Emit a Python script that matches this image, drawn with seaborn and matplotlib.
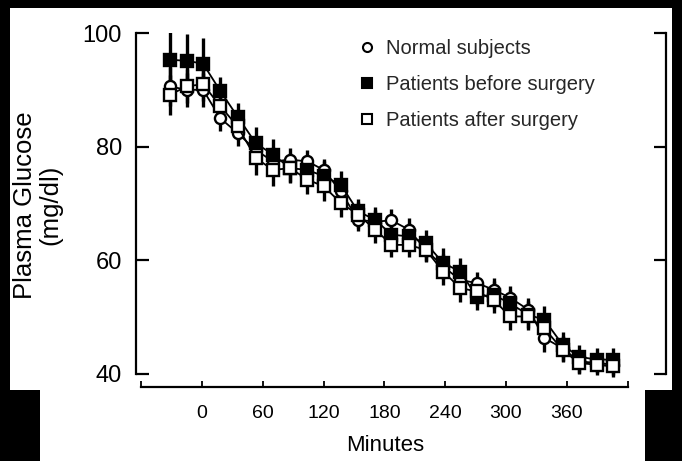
import numpy as np
import matplotlib
matplotlib.use('Agg')
from matplotlib import pyplot as plt
from matplotlib.lines import Line2D
from matplotlib.patches import Rectangle
import seaborn as sns

# sampling times (minutes)
minutes = [-32, -15, 1, 18, 35, 53, 70, 87, 104, 120, 137, 154, 171, 187,
           204, 221, 238, 255, 271, 288, 304, 322, 338, 356, 372, 390, 406]

normal = [90.6, 90.0, 90.0, 85.0, 82.4, 79.4, 77.4, 77.7, 77.4, 75.9, 72.1, 67.1, 66.8, 67.0,
          65.4, 61.8, 58.9, 56.5, 56.0, 54.8, 53.4, 51.3, 46.3, 44.5, 42.2, 41.9, 41.6]
normal_se = [3.5, 3.0, 3.0, 2.3, 2.3, 2.5, 2.5, 2.0, 2.0, 2.0, 2.0, 2.0, 2.0, 2.0,
             2.0, 2.0, 2.2, 2.2, 2.0, 2.0, 2.0, 2.0, 2.4, 2.2, 2.0, 1.8, 1.8]

before = [95.3, 95.1, 94.6, 89.8, 85.3, 80.6, 78.6, 76.2, 75.9, 74.8, 73.3, 68.6, 67.1, 64.5,
          64.2, 63.0, 59.5, 58.0, 53.6, 53.9, 52.4, 50.4, 49.5, 45.1, 43.0, 42.5, 42.5]
before_se = [4.8, 4.8, 4.5, 2.4, 2.4, 2.8, 2.8, 2.4, 2.6, 2.6, 2.4, 2.2, 2.2, 2.4,
             2.4, 2.4, 2.6, 2.4, 2.4, 2.4, 2.4, 2.4, 2.4, 2.2, 2.0, 2.0, 2.0]

after = [89.1, 90.6, 91.0, 87.1, 83.6, 78.0, 75.9, 76.2, 74.2, 73.0, 70.1, 68.0, 65.4, 62.7,
         62.7, 61.8, 58.0, 55.1, 54.5, 53.0, 50.1, 50.1, 48.0, 44.2, 41.9, 41.6, 41.3]
after_se = [3.5, 3.0, 3.0, 2.5, 2.5, 3.0, 2.8, 2.6, 2.5, 2.5, 2.5, 2.3, 2.3, 2.2,
            2.2, 2.2, 2.4, 2.4, 2.3, 2.3, 2.3, 2.3, 2.3, 2.2, 2.0, 1.8, 1.8]

labels = ['Normal subjects', 'Patients before surgery', 'Patients after surgery']
x_ticks = [-60, 0, 60, 120, 180, 240, 300, 360, 420]
x_tick_labels = ['', '0', '60', '120', '180', '240', '300', '360', '']
y_ticks = [40, 60, 80, 100]

sns.set_theme(style='ticks')
plt.rcParams['font.family'] = ['Liberation Sans', 'DejaVu Sans']

W, H = 682, 461
fig = plt.figure(figsize=(W / 100, H / 100), dpi=100, facecolor='black')

# white paper of the scan on a black background
def px_rect(x0, y0, x1, y1):
    return Rectangle((x0 / W, 1 - y1 / H), (x1 - x0) / W, (y1 - y0) / H,
                     transform=fig.transFigure, facecolor='white', edgecolor='none', zorder=-10)

fig.patches.append(px_rect(10, 8, 672, 390))
fig.patches.append(px_rect(40, 385, 645, 461))

ax = fig.add_axes([136 / W, 1 - 387 / H, (666 - 136) / W, (387 - 33) / H])
ax.set_facecolor('none')

series = [
    (normal, normal_se, 'o', 'white', 8.0),
    (before, before_se, 's', 'black', 8.4),
    (after, after_se, 's', 'white', 8.2),
]

for i, (vals, se, mk, fc, ms) in enumerate(series):
    ax.errorbar(minutes, vals, yerr=se, fmt='none', ecolor='black',
                elinewidth=2.4, capsize=0, zorder=1 + i * 0.1)
    sns.lineplot(x=minutes, y=vals, ax=ax, color='black', linewidth=1.3,
                 marker=mk, markersize=ms, markerfacecolor=fc,
                 markeredgecolor='black', markeredgewidth=1.7, zorder=3 + i * 0.1)

ax.set_xlim(-65.2, 458)
ax.set_ylim(37.68, 100)

for side in ['left', 'right', 'bottom']:
    ax.spines[side].set_linewidth(1.6)
    ax.spines[side].set_color('black')
ax.spines['top'].set_visible(False)
ax.spines['left'].set_bounds(40, 100)
ax.spines['right'].set_bounds(40, 100)
ax.spines['bottom'].set_bounds(-60, 420)

ax.set_yticks(y_ticks)
ax.set_yticklabels([str(v) for v in y_ticks], fontsize=17)
ax.set_xticks(x_ticks)
ax.set_xticklabels(x_tick_labels, fontsize=14)
ax.tick_params(axis='y', which='both', direction='in', length=9, width=1.6,
               left=True, right=True, labelleft=True, labelright=False, pad=10, colors='black')
ax.tick_params(axis='x', direction='in', length=4, width=1.3, pad=13, colors='black')

ax.set_xlabel('Minutes', fontsize=16, color='black')
ax.xaxis.set_label_coords((385 - 136) / 530, -(435 - 387) / 354)
ax.set_ylabel('Plasma Glucose\n(mg/dl)', fontsize=18.5, color='black', linespacing=1.05)
ax.yaxis.set_label_coords((62 - 136) / 530, (387 - 205) / 354)

handles = [
    Line2D([], [], linestyle='none', marker='o', markersize=6.5, markerfacecolor='white',
           markeredgecolor='black', markeredgewidth=1.5),
    Line2D([], [], linestyle='none', marker='s', markersize=7, markerfacecolor='black',
           markeredgecolor='black', markeredgewidth=1.5),
    Line2D([], [], linestyle='none', marker='s', markersize=7, markerfacecolor='white',
           markeredgecolor='black', markeredgewidth=1.5),
]
ax.legend(handles, labels, loc='upper left', bbox_to_anchor=((357 - 136) / 530, (387 - 39) / 354),
          frameon=False, fontsize=14.5, handlelength=1.0, handletextpad=0.45,
          labelspacing=0.85, borderpad=0, borderaxespad=0)

fig.savefig('out.png', dpi=100, facecolor='black')
